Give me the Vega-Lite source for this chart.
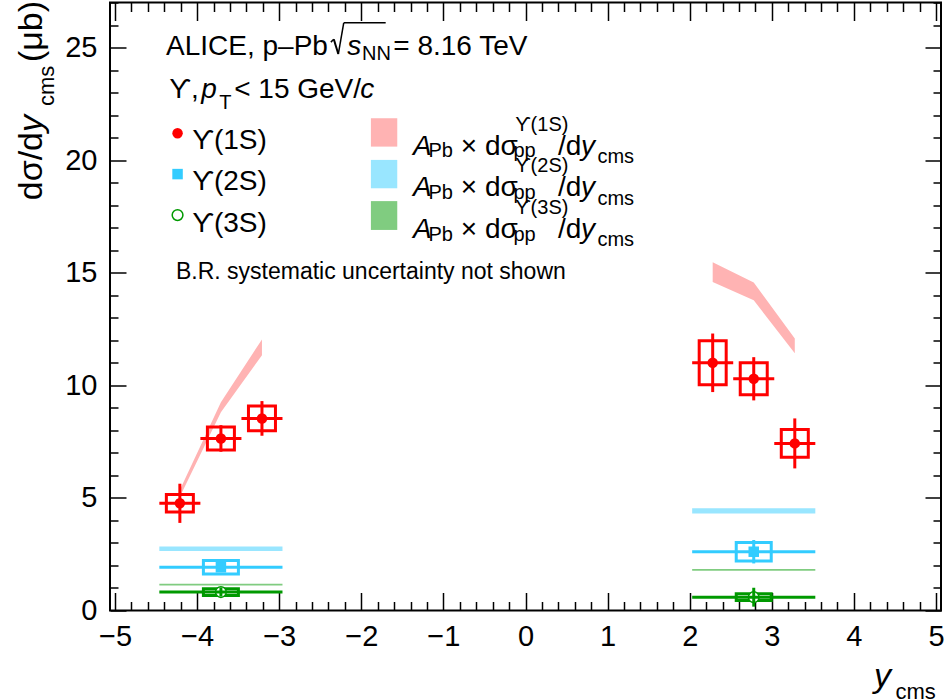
{
  "$schema": "https://vega.github.io/schema/vega-lite/v6.json",
  "width": 831,
  "height": 608,
  "autosize": "none",
  "padding": {"left": 110, "top": 2.5, "right": 9, "bottom": 88.5},
  "background": "white",
  "config": {
    "font": "Liberation Sans",
    "view": {"stroke": "black", "strokeWidth": 2},
    "axis": {
      "grid": false,
      "domain": false,
      "tickColor": "black",
      "tickWidth": 1.5,
      "labelFont": "Liberation Sans",
      "labelFontSize": 29,
      "labelColor": "black",
      "labelOverlap": false,
      "labelFlush": false,
      "labelBound": false
    },
    "range": {"category": ["#ff0000", "#33ccff", "#009900"]}
  },
  "datasets": {
    "ups": [
      {"state": "1S", "yc": -4.21, "val": 4.76, "xlo": -4.46, "xhi": -3.96, "stat_lo": 3.89, "stat_hi": 5.63, "sys_lo": 4.37, "sys_hi": 5.15},
      {"state": "1S", "yc": -3.71, "val": 7.64, "xlo": -3.96, "xhi": -3.46, "stat_lo": 7.05, "stat_hi": 8.23, "sys_lo": 7.13, "sys_hi": 8.15},
      {"state": "1S", "yc": -3.21, "val": 8.53, "xlo": -3.46, "xhi": -2.96, "stat_lo": 7.76, "stat_hi": 9.30, "sys_lo": 7.98, "sys_hi": 9.08},
      {"state": "1S", "yc": 2.28, "val": 11.0, "xlo": 2.03, "xhi": 2.53, "stat_lo": 9.70, "stat_hi": 12.30, "sys_lo": 10.02, "sys_hi": 11.98},
      {"state": "1S", "yc": 2.78, "val": 10.29, "xlo": 2.53, "xhi": 3.03, "stat_lo": 9.33, "stat_hi": 11.25, "sys_lo": 9.58, "sys_hi": 11.00},
      {"state": "1S", "yc": 3.28, "val": 7.42, "xlo": 3.03, "xhi": 3.53, "stat_lo": 6.31, "stat_hi": 8.53, "sys_lo": 6.80, "sys_hi": 8.04},
      {"state": "2S", "yc": -3.71, "val": 1.92, "xlo": -4.46, "xhi": -2.96, "stat_lo": 1.72, "stat_hi": 2.12, "sys_lo": 1.62, "sys_hi": 2.22},
      {"state": "2S", "yc": 2.78, "val": 2.61, "xlo": 2.03, "xhi": 3.53, "stat_lo": 2.09, "stat_hi": 3.13, "sys_lo": 2.20, "sys_hi": 3.02},
      {"state": "3S", "yc": -3.71, "val": 0.82, "xlo": -4.46, "xhi": -2.96, "stat_lo": 0.62, "stat_hi": 1.02, "sys_lo": 0.67, "sys_hi": 0.97},
      {"state": "3S", "yc": 2.78, "val": 0.59, "xlo": 2.03, "xhi": 3.53, "stat_lo": 0.17, "stat_hi": 1.01, "sys_lo": 0.44, "sys_hi": 0.74}
    ],
    "model": [
      {"state": "1S", "side": "backward", "yc": -4.21, "lo": 5.05, "hi": 5.35},
      {"state": "1S", "side": "backward", "yc": -3.71, "lo": 8.80, "hi": 9.25},
      {"state": "1S", "side": "backward", "yc": -3.21, "lo": 11.34, "hi": 12.04},
      {"state": "1S", "side": "forward", "yc": 2.28, "lo": 14.59, "hi": 15.46},
      {"state": "1S", "side": "forward", "yc": 2.78, "lo": 13.78, "hi": 14.57},
      {"state": "1S", "side": "forward", "yc": 3.28, "lo": 11.42, "hi": 12.08},
      {"state": "2S", "side": "backward", "xlo": -4.46, "xhi": -2.96, "lo": 2.64, "hi": 2.84},
      {"state": "2S", "side": "forward", "xlo": 2.03, "xhi": 3.53, "lo": 4.31, "hi": 4.54},
      {"state": "3S", "side": "backward", "xlo": -4.46, "xhi": -2.96, "lo": 1.11, "hi": 1.19},
      {"state": "3S", "side": "forward", "xlo": 2.03, "xhi": 3.53, "lo": 1.76, "hi": 1.84}
    ]
  },
  "layer": [
    {
      "layer": [
        {
          "data": {"name": "model"},
          "transform": [{"filter": "datum.state === '1S'"}],
          "mark": {"type": "area"},
          "encoding": {
            "x": {
              "field": "yc", "type": "quantitative",
              "scale": {"domain": [-5, 5], "nice": false, "zero": false},
              "axis": {
                "title": null,
                "values": [-5, -4.8, -4.6, -4.4, -4.2, -4, -3.8, -3.6, -3.4, -3.2, -3, -2.8, -2.6, -2.4, -2.2, -2, -1.8, -1.6, -1.4, -1.2, -1, -0.8, -0.6, -0.4, -0.2, 0, 0.2, 0.4, 0.6, 0.8, 1, 1.2, 1.4, 1.6, 1.8, 2, 2.2, 2.4, 2.6, 2.8, 3, 3.2, 3.4, 3.6, 3.8, 4, 4.2, 4.4, 4.6, 4.8, 5],
                "tickCount": 100,
                "tickMinStep": 0.1,
                "format": "d",
                "labelExpr": "abs(datum.value - round(datum.value)) < 0.01 ? datum.label : ''",
                "tickSize": {"condition": {"test": "abs(datum.value - round(datum.value)) < 0.01", "value": -18}, "value": -9},
                "labelPadding": 30
              }
            },
            "y": {
              "field": "lo", "type": "quantitative",
              "scale": {"domain": [0, 27], "nice": false, "zero": false},
              "axis": {
                "title": null,
                "values": [0, 1, 2, 3, 4, 5, 6, 7, 8, 9, 10, 11, 12, 13, 14, 15, 16, 17, 18, 19, 20, 21, 22, 23, 24, 25, 26, 27],
                "tickCount": 100,
                "tickMinStep": 0.1,
                "format": "d",
                "labelExpr": "datum.value % 5 === 0 ? datum.label : ''",
                "tickSize": {"condition": {"test": "datum.value % 5 === 0", "value": -16}, "value": -8},
                "labelPadding": 29
              }
            },
            "y2": {"field": "hi"},
            "detail": {"field": "side"},
            "fill": {"field": "state", "type": "nominal", "scale": {"domain": ["1S", "2S", "3S"], "range": ["#ffb3b3", "#99e6ff", "#80cc80"]}, "legend": null}
          }
        },
        {
          "data": {"name": "model"},
          "transform": [{"filter": "datum.state !== '1S'"}],
          "mark": {"type": "rect"},
          "encoding": {
            "x": {"field": "xlo", "type": "quantitative"},
            "x2": {"field": "xhi"},
            "y": {"field": "lo", "type": "quantitative"},
            "y2": {"field": "hi"},
            "fill": {"field": "state", "type": "nominal", "legend": null}
          }
        },
        {
          "data": {"name": "ups"},
          "transform": [{"filter": "datum.state === '1S'"}],
          "mark": {"type": "bar", "width": 27, "fillOpacity": 0, "strokeWidth": 3},
          "encoding": {
            "x": {"field": "yc", "type": "quantitative"},
            "y": {"field": "sys_lo", "type": "quantitative"},
            "y2": {"field": "sys_hi"},
            "stroke": {"field": "state", "type": "nominal", "legend": null}
          }
        },
        {
          "data": {"name": "ups"},
          "transform": [{"filter": "datum.state !== '1S'"}],
          "mark": {"type": "bar", "width": 35, "fillOpacity": 0, "strokeWidth": 3},
          "encoding": {
            "x": {"field": "yc", "type": "quantitative"},
            "y": {"field": "sys_lo", "type": "quantitative"},
            "y2": {"field": "sys_hi"},
            "stroke": {"field": "state", "type": "nominal", "legend": null}
          }
        },
        {
          "data": {"name": "ups"},
          "transform": [{"filter": "datum.state !== '3S'"}],
          "mark": {"type": "point", "filled": true, "opacity": 1, "size": 110},
          "encoding": {
            "x": {"field": "yc", "type": "quantitative"},
            "y": {"field": "val", "type": "quantitative"},
            "color": {"field": "state", "type": "nominal", "legend": null},
            "shape": {"field": "state", "type": "nominal", "scale": {"domain": ["1S", "2S"], "range": ["circle", "square"]}, "legend": null}
          }
        },
        {
          "data": {"name": "ups"},
          "transform": [{"filter": "datum.state === '3S'"}],
          "mark": {"type": "point", "shape": "circle", "size": 115, "fill": "white", "stroke": "#009900", "strokeWidth": 1.5, "opacity": 1},
          "encoding": {
            "x": {"field": "yc", "type": "quantitative"},
            "y": {"field": "val", "type": "quantitative"}
          }
        },
        {
          "data": {"name": "ups"},
          "mark": {"type": "rule", "strokeWidth": 3},
          "encoding": {
            "x": {"field": "yc", "type": "quantitative"},
            "y": {"field": "stat_lo", "type": "quantitative"},
            "y2": {"field": "stat_hi"},
            "color": {"field": "state", "type": "nominal", "legend": null}
          }
        },
        {
          "data": {"name": "ups"},
          "mark": {"type": "rule", "strokeWidth": 3},
          "encoding": {
            "x": {"field": "xlo", "type": "quantitative"},
            "x2": {"field": "xhi"},
            "y": {"field": "val", "type": "quantitative"},
            "color": {"field": "state", "type": "nominal", "legend": null}
          }
        },
        {
          "data": {"values": [{}]},
          "layer": [
            {"mark": {"type": "text", "align": "left", "fontSize": 28, "text": "ALICE, p–Pb"}, "encoding": {"x": {"datum": -4.378}, "y": {"datum": 25.04}}},
            {"mark": {"type": "rule", "color": "black", "strokeWidth": 1.5}, "encoding": {"x": {"datum": -2.371}, "y": {"datum": 25.24}, "x2": {"datum": -2.335}, "y2": {"datum": 25.37}}},
            {"mark": {"type": "rule", "color": "black", "strokeWidth": 2}, "encoding": {"x": {"datum": -2.335}, "y": {"datum": 25.37}, "x2": {"datum": -2.28}, "y2": {"datum": 24.71}}},
            {"mark": {"type": "rule", "color": "black", "strokeWidth": 1.5}, "encoding": {"x": {"datum": -2.28}, "y": {"datum": 24.71}, "x2": {"datum": -2.214}, "y2": {"datum": 26.1}}},
            {"mark": {"type": "rule", "color": "black", "strokeWidth": 1.5}, "encoding": {"x": {"datum": -2.214}, "x2": {"datum": -1.703}, "y": {"datum": 26.1}}},
            {"mark": {"type": "text", "align": "left", "fontSize": 28, "fontStyle": "italic", "text": "s"}, "encoding": {"x": {"datum": -2.172}, "y": {"datum": 25.04}}},
            {"mark": {"type": "text", "align": "left", "fontSize": 20, "text": "NN"}, "encoding": {"x": {"datum": -1.992}, "y": {"datum": 24.71}}},
            {"mark": {"type": "text", "align": "left", "fontSize": 28, "text": "= 8.16 TeV"}, "encoding": {"x": {"datum": -1.61}, "y": {"datum": 25.04}}},
            {"mark": {"type": "text", "align": "left", "fontSize": 28, "text": "ϒ,"}, "encoding": {"x": {"datum": -4.338}, "y": {"datum": 23.11}}},
            {"mark": {"type": "text", "align": "left", "fontSize": 28, "fontStyle": "italic", "text": "p"}, "encoding": {"x": {"datum": -3.95}, "y": {"datum": 23.11}}},
            {"mark": {"type": "text", "align": "left", "fontSize": 20, "text": "T"}, "encoding": {"x": {"datum": -3.73}, "y": {"datum": 22.55}}},
            {"mark": {"type": "text", "align": "left", "fontSize": 28, "text": "< 15 GeV/"}, "encoding": {"x": {"datum": -3.548}, "y": {"datum": 23.11}}},
            {"mark": {"type": "text", "align": "left", "fontSize": 28, "fontStyle": "italic", "text": "c"}, "encoding": {"x": {"datum": -2.012}, "y": {"datum": 23.11}}},
            {"mark": {"type": "point", "shape": "circle", "filled": true, "opacity": 1, "size": 110, "color": "#ff0000"}, "encoding": {"x": {"datum": -4.238}, "y": {"datum": 21.19}}},
            {"mark": {"type": "point", "shape": "square", "filled": true, "opacity": 1, "size": 110, "color": "#33ccff"}, "encoding": {"x": {"datum": -4.238}, "y": {"datum": 19.38}}},
            {"mark": {"type": "point", "shape": "circle", "size": 115, "fill": "white", "stroke": "#009900", "strokeWidth": 1.5, "opacity": 1}, "encoding": {"x": {"datum": -4.238}, "y": {"datum": 17.56}}},
            {"mark": {"type": "text", "align": "left", "fontSize": 28, "lineHeight": 41.7, "text": ["ϒ(1S)", "ϒ(2S)", "ϒ(3S)"]}, "encoding": {"x": {"datum": -4.058}, "y": {"datum": 20.87}}},
            {"mark": {"type": "rect", "color": "#ffb3b3"}, "encoding": {"x": {"datum": -1.883}, "x2": {"datum": -1.562}, "y": {"datum": 20.60}, "y2": {"datum": 21.86}}},
            {"mark": {"type": "rect", "color": "#99e6ff"}, "encoding": {"x": {"datum": -1.883}, "x2": {"datum": -1.562}, "y": {"datum": 18.75}, "y2": {"datum": 20.01}}},
            {"mark": {"type": "rect", "color": "#80cc80"}, "encoding": {"x": {"datum": -1.883}, "x2": {"datum": -1.562}, "y": {"datum": 16.90}, "y2": {"datum": 18.18}}},
            {"mark": {"type": "text", "align": "left", "fontSize": 28, "fontStyle": "italic", "lineHeight": 41.7, "text": ["A", "A", "A"]}, "encoding": {"x": {"datum": -1.369}, "y": {"datum": 20.60}}},
            {"mark": {"type": "text", "align": "left", "fontSize": 20, "lineHeight": 41.7, "text": ["Pb", "Pb", "Pb"]}, "encoding": {"x": {"datum": -1.182}, "y": {"datum": 20.40}}},
            {"mark": {"type": "text", "align": "left", "fontSize": 28, "lineHeight": 41.7, "text": ["× dσ", "× dσ", "× dσ"]}, "encoding": {"x": {"datum": -0.788}, "y": {"datum": 20.60}}},
            {"mark": {"type": "text", "align": "left", "fontSize": 20, "lineHeight": 41.7, "text": ["pp", "pp", "pp"]}, "encoding": {"x": {"datum": -0.147}, "y": {"datum": 20.40}}},
            {"mark": {"type": "text", "align": "left", "fontSize": 20, "lineHeight": 41.7, "text": ["ϒ(1S)", "ϒ(2S)", "ϒ(3S)"]}, "encoding": {"x": {"datum": -0.126}, "y": {"datum": 21.58}}},
            {"mark": {"type": "text", "align": "left", "fontSize": 28, "lineHeight": 41.7, "text": ["/d", "/d", "/d"]}, "encoding": {"x": {"datum": 0.395}, "y": {"datum": 20.60}}},
            {"mark": {"type": "text", "align": "left", "fontSize": 28, "fontStyle": "italic", "lineHeight": 41.7, "text": ["y", "y", "y"]}, "encoding": {"x": {"datum": 0.676}, "y": {"datum": 20.60}}},
            {"mark": {"type": "text", "align": "left", "fontSize": 20, "lineHeight": 41.7, "text": ["cms", "cms", "cms"]}, "encoding": {"x": {"datum": 0.876}, "y": {"datum": 20.14}}},
            {"mark": {"type": "text", "align": "left", "fontSize": 23, "text": "B.R. systematic uncertainty not shown"}, "encoding": {"x": {"datum": -4.258}, "y": {"datum": 15.05}}},
            {"mark": {"type": "text", "align": "right", "angle": 270, "fontSize": 34, "text": "dσ/d"}, "encoding": {"x": {"datum": -6.005}, "y": {"datum": 21.25}}},
            {"mark": {"type": "text", "align": "left", "angle": 270, "fontSize": 34, "fontStyle": "italic", "text": "y"}, "encoding": {"x": {"datum": -6.005}, "y": {"datum": 21.25}}},
            {"mark": {"type": "text", "align": "left", "angle": 270, "fontSize": 22, "text": "cms"}, "encoding": {"x": {"datum": -5.83}, "y": {"datum": 22.4}}},
            {"mark": {"type": "text", "align": "right", "angle": 270, "fontSize": 34, "text": "(μb)"}, "encoding": {"x": {"datum": -6.005}, "y": {"datum": 27.07}}},
            {"mark": {"type": "text", "align": "left", "fontSize": 34, "fontStyle": "italic", "text": "y"}, "encoding": {"x": {"datum": 4.246}, "y": {"datum": -2.97}}},
            {"mark": {"type": "text", "align": "left", "fontSize": 22, "text": "cms"}, "encoding": {"x": {"datum": 4.507}, "y": {"datum": -3.6}}}
          ]
        }
      ]
    },
    {
      "data": {"values": [{}]},
      "mark": {"type": "point", "opacity": 0},
      "encoding": {
        "x": {
          "datum": 0, "type": "quantitative",
          "scale": {"domain": [-5, 5], "nice": false, "zero": false},
          "axis": {
            "orient": "top", "title": null, "labels": false,
            "values": [-5, -4.8, -4.6, -4.4, -4.2, -4, -3.8, -3.6, -3.4, -3.2, -3, -2.8, -2.6, -2.4, -2.2, -2, -1.8, -1.6, -1.4, -1.2, -1, -0.8, -0.6, -0.4, -0.2, 0, 0.2, 0.4, 0.6, 0.8, 1, 1.2, 1.4, 1.6, 1.8, 2, 2.2, 2.4, 2.6, 2.8, 3, 3.2, 3.4, 3.6, 3.8, 4, 4.2, 4.4, 4.6, 4.8, 5],
            "tickCount": 100,
            "tickMinStep": 0.1,
            "tickSize": {"condition": {"test": "abs(datum.value - round(datum.value)) < 0.01", "value": -18}, "value": -9}
          }
        },
        "y": {
          "datum": 0, "type": "quantitative",
          "scale": {"domain": [0, 27], "nice": false, "zero": false},
          "axis": {
            "orient": "right", "title": null, "labels": false,
            "values": [0, 1, 2, 3, 4, 5, 6, 7, 8, 9, 10, 11, 12, 13, 14, 15, 16, 17, 18, 19, 20, 21, 22, 23, 24, 25, 26, 27],
            "tickCount": 100,
            "tickMinStep": 0.1,
            "tickSize": {"condition": {"test": "datum.value % 5 === 0", "value": -16}, "value": -8}
          }
        }
      }
    }
  ],
  "resolve": {"axis": {"x": "independent", "y": "independent"}}
}
